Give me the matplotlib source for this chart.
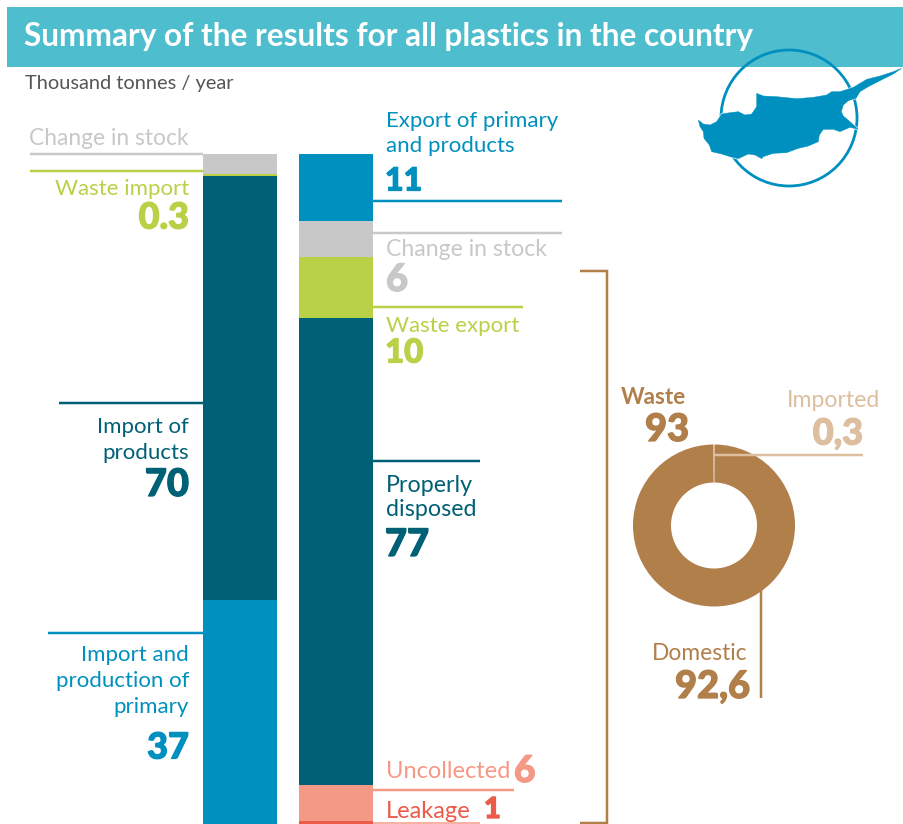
import matplotlib
matplotlib.use("Agg")
import matplotlib.pyplot as plt
import matplotlib.patheffects as pe
from matplotlib.patches import Circle, Polygon, Rectangle

# flows in thousand tonnes / year, bottom to top
input_names = ["Import and production of primary", "Import of products", "Waste import", "Change in stock"]
input_values = [37, 70, 0.3, 3.2]
input_colors = ["#0090BF", "#006075", "#B9D147", "#C8C8C8"]

output_names = ["Leakage", "Uncollected", "Properly disposed", "Waste export", "Change in stock", "Export of primary and products"]
output_values = [1, 6, 77, 10, 6, 11]
output_colors = ["#EC5A48", "#F49985", "#006075", "#B9D147", "#C8C8C8", "#0090BF"]

waste_names = ["Imported", "Domestic"]
waste_values = [0.3, 92.6]
waste_colors = ["#DDBE9F", "#B07F4A"]

W, H = 904, 824
BLUE, TEAL, LIME, GREY = "#0090BF", "#006075", "#B9D147", "#C8C8C8"
SALMON, RED, TAN, LTAN = "#F49985", "#EC5A48", "#B07F4A", "#DDBE9F"
FONT = "Lato"

fig = plt.figure(figsize=(W / 100, H / 100), dpi=100)

# bars: x in pixels, y in thousand tonnes (about 6.06 px per unit)
ax = fig.add_axes([0, 0, 1, 1])
ax.set_xlim(0, W)
ax.set_ylim(3 / 6.06, 827 / 6.06)
ax.axis("off")

bottom = 0.5
for v, c in zip(input_values, input_colors):
    ax.bar(240, v, width=74, bottom=bottom, color=c, linewidth=0)
    bottom += v

bottom = 0
for v, c in zip(output_values, output_colors):
    ax.bar(336, v, width=74, bottom=bottom, color=c, linewidth=0)
    bottom += v

# donut of waste origin
donut = fig.add_axes([(714 - 81) / W, 1 - (525.5 + 81) / H, 162 / W, 162 / H])
donut.pie(waste_values, colors=waste_colors, startangle=90 + 0.58, counterclock=False, radius=1,
          wedgeprops={"width": 38 / 81, "linewidth": 0})
donut.set_xlim(-1, 1)
donut.set_ylim(-1, 1)

# labels and leader lines in pixel coordinates on top of everything
top = fig.add_axes([0, 0, 1, 1])
top.set_xlim(0, W)
top.set_ylim(H, 0)
top.axis("off")
top.set_zorder(5)


def label(x, y, s, color, size, ha="left", weight="normal"):
    top.text(x, y + 1, s, color=color, fontsize=size * 0.72, ha=ha, va="center",
             family=FONT, weight=weight)


def number(x, y, s, color, size, ha="left"):
    # thicken the digits a little, the heaviest font weight is still light here
    t = top.text(x, y + 1, s, color=color, fontsize=size * 0.72, ha=ha, va="center",
                 family=FONT, weight="black")
    t.set_path_effects([pe.withStroke(linewidth=0.9, foreground=color)])


def line(xs, ys, color, lw=2.5):
    top.plot(xs, ys, color=color, lw=lw * 0.72, solid_capstyle="butt", solid_joinstyle="miter")


# header band
top.add_patch(Rectangle((7, 7), W - 7, 60, color="#4EBDCD", lw=0))
label(24, 35, "Summary of the results for all plastics in the country", "white", 31.6, weight="bold")
label(25, 82, "Thousand tonnes / year", "#555555", 20)

# map of the island inside its ring
top.add_patch(Circle((789, 118), 68, fill=False, ec=BLUE, lw=2))
outline = [(55, 240), (70, 252), (90, 255), (110, 245), (125, 222), (150, 218), (175, 215), (195, 225),
           (215, 222), (230, 200), (230, 160), (250, 168), (290, 170), (350, 176), (400, 172), (440, 165),
           (455, 155), (480, 155), (520, 142), (560, 118), (600, 108), (640, 95), (665, 85), (640, 102),
           (600, 122), (565, 140), (540, 155), (528, 175), (505, 182), (490, 195), (484, 215), (490, 228),
           (510, 245), (535, 268), (510, 262), (480, 275), (460, 268), (430, 268), (418, 285), (415, 305),
           (385, 318), (355, 325), (320, 338), (280, 340), (250, 350), (245, 356), (225, 345), (205, 342),
           (175, 356), (150, 350), (125, 342), (95, 335), (88, 315), (72, 295), (70, 275), (60, 260)]
outline_px = [(680 + x / 3, 40 + y / 3) for x, y in outline]
top.add_patch(Polygon(outline_px, fc="white", ec="white", lw=1.2))
top.add_patch(Polygon(outline_px, fc=BLUE, ec=BLUE, lw=0.3))

# left column
label(189, 137, "Change in stock", GREY, 22.7, ha="right")
line([30, 203], [154, 154], GREY)
line([30, 203], [171, 171], LIME)
label(189, 188, "Waste import", LIME, 22.3, ha="right")
number(189, 217, "0.3", LIME, 36, ha="right")
line([59, 203], [403, 403], TEAL)
label(189, 426, "Import of", TEAL, 22.3, ha="right")
label(189, 452, "products", TEAL, 22.3, ha="right")
number(189, 484, "70", TEAL, 38, ha="right")
line([48, 203], [633, 633], BLUE)
label(189, 654, "Import and", BLUE, 22.3, ha="right")
label(189, 680, "production of", BLUE, 22.3, ha="right")
label(189, 706, "primary", BLUE, 22.3, ha="right")
number(189, 747, "37", BLUE, 36, ha="right")

# right column
label(386, 120, "Export of primary", BLUE, 22.3)
label(386, 145, "and products", BLUE, 22.3)
number(385, 180, "11", BLUE, 32)
line([373, 562], [201, 201], BLUE)
line([373, 562], [233, 233], GREY)
label(386, 248, "Change in stock", GREY, 23)
number(386, 279, "6", GREY, 38)
line([373, 523], [307, 307], LIME)
label(386, 325, "Waste export", LIME, 22.3)
number(385, 352, "10", LIME, 33)
line([373, 480], [461, 461], TEAL)
label(386, 484, "Properly", TEAL, 23.2)
label(386, 509, "disposed", TEAL, 23.2)
number(385, 544, "77", TEAL, 38)
label(386, 771, "Uncollected", SALMON, 23.6)
number(514, 770, "6", SALMON, 37)
line([373, 514], [790, 790], SALMON)
label(386, 810, "Leakage", RED, 23.6)
number(484, 809, "1", RED, 29)
line([373, 480], [823, 823], SALMON, lw=1.5)

# bracket joining the waste flows to the donut
line([580, 607, 607, 580], [271, 271, 823, 823], TAN)

label(686, 396, "Waste", TAN, 22.5, ha="right", weight="bold")
number(689, 429, "93", TAN, 38, ha="right")
label(880, 399, "Imported", LTAN, 23, ha="right")
number(863, 433, "0,3", LTAN, 36, ha="right")
line([713, 863], [454.5, 454.5], LTAN)
label(747, 652, "Domestic", TAN, 22.7, ha="right")
number(750, 686, "92,6", TAN, 38, ha="right")
line([761, 761], [590, 698], TAN)

fig.savefig("out.png", dpi=100)
